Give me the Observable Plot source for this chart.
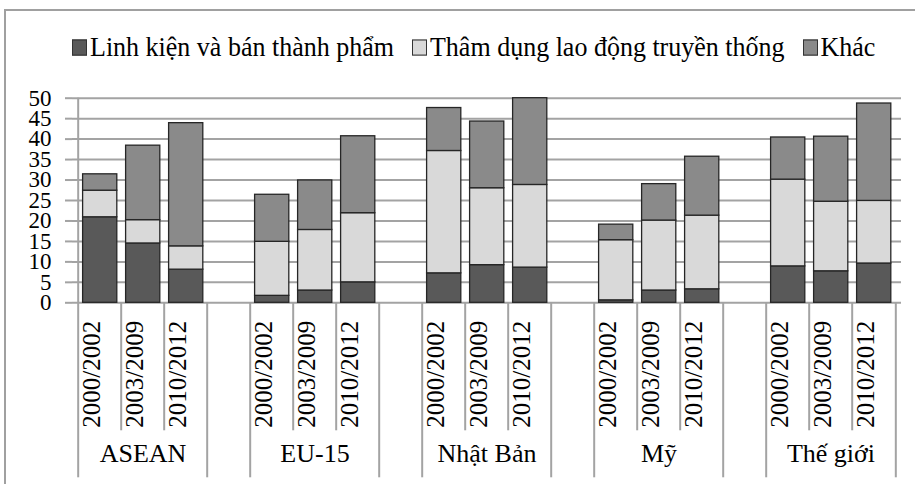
<!DOCTYPE html>
<html>
<head>
<meta charset="utf-8">
<script src="https://cdn.jsdelivr.net/npm/d3@7"></script>
<script src="https://cdn.jsdelivr.net/npm/@observablehq/plot@0.6"></script>
<style>
  html, body { margin: 0; padding: 0; background: #fff; }
  #wrap { position: relative; width: 915px; height: 484px; overflow: hidden; background: #fff; font-family: "Liberation Serif", "Times New Roman", serif; }
  #border { position: absolute; left: 4px; top: 9px; right: -20px; bottom: -20px; border: 2px solid #a0a0a0; }
  #legend { position: absolute; left: 72px; top: 32px; display: flex; align-items: center; font-size: 26px; color: #000; white-space: nowrap; transform: scaleY(1.08); transform-origin: left center; }
  #legend .item { display: flex; align-items: center; margin-right: 18px; }
  #legend .sw { width: 13px; height: 13px; border: 1px solid #333; margin-right: 3px; }
  #chart { position: absolute; left: 0; top: 80px; }
</style>
</head>
<body>
<div id="wrap">
  <div id="border"></div>
  <div id="legend"></div>
  <div id="chart"></div>
</div>
<script>
const groups = ["ASEAN", "EU-15", "Nhật Bản", "Mỹ", "Thế giới"];
const periods = ["2000/2002", "2003/2009", "2010/2012"];
const seriesNames = ["Linh kiện và bán thành phẩm", "Thâm dụng lao động truyền thống", "Khác"];
const seriesColors = ["#595959", "#d9d9d9", "#8a8a8a"];
// values per group x period (ASEAN 3, EU-15 3, Nhật Bản 3, Mỹ 3, Thế giới 3)
const linhKien = [20.9, 14.5, 8.1, 1.7, 3.0, 5.0, 7.2, 9.2, 8.6, 0.6, 3.0, 3.3, 8.9, 7.7, 9.6];
const thamDung = [6.5, 5.7, 5.7, 13.2, 14.8, 16.9, 29.9, 18.8, 20.2, 14.7, 17.1, 18.0, 21.2, 17.0, 15.3];
const khac = [4.0, 18.2, 30.1, 11.5, 12.1, 18.8, 10.5, 16.3, 21.2, 3.8, 8.9, 14.4, 10.3, 15.9, 23.8];
const yTicks = [0, 5, 10, 15, 20, 25, 30, 35, 40, 45, 50];

// slots: 3 bars per group, one empty slot between groups
const slots = [];
const slotInfo = [];
groups.forEach((g, gi) => {
  periods.forEach((p) => { slots.push(g + "|" + p); slotInfo.push({slot: g + "|" + p, group: g, period: p}); });
  if (gi < groups.length - 1) slots.push("gap" + gi);
});

const seriesArrays = [linhKien, thamDung, khac];
const rows = [];
groups.forEach((g, gi) => periods.forEach((p, pi) => {
  seriesArrays.forEach((arr, si) => rows.push({slot: g + "|" + p, series: seriesNames[si], value: arr[gi * 3 + pi]}));
}));

const W = 915, H = 404, ML = 72, MR = 14, MT = 17.7, MB = 181.7;
const bw = (W - ML - MR) / slots.length;

const firstSlots = groups.map(g => g + "|" + periods[0]);
const innerSlots = groups.flatMap(g => [g + "|" + periods[1], g + "|" + periods[2]]);
const gapSlots = slots.filter(s => s.startsWith("gap"));
const lastSlot = slots[slots.length - 1];
const midSlots = groups.map(g => ({slot: g + "|" + periods[1], name: g}));

const gridColor = "#a3a3a3";

const plot = Plot.plot({
  width: W, height: H,
  marginLeft: ML, marginRight: MR, marginTop: MT, marginBottom: MB,
  style: {fontFamily: "'Liberation Serif', 'Times New Roman', serif", fontSize: "25px", background: "transparent", overflow: "visible", color: "#000"},
  x: {domain: slots, padding: 0, axis: null, label: null},
  y: {domain: [0, 50], axis: null, label: null},
  color: {domain: seriesNames, range: seriesColors},
  marks: [
    Plot.gridY(yTicks, {stroke: gridColor, strokeWidth: 2, strokeOpacity: 1}),
    Plot.axisY(yTicks, {anchor: "left", label: null, tickSize: 7, tickPadding: 14, stroke: gridColor, strokeWidth: 2, fill: "#000", fontSize: 23, tickFormat: d => String(d)}),
    Plot.ruleX([slots[0]], {dx: -bw / 2, stroke: gridColor, strokeWidth: 2}),
    Plot.barY(rows, Plot.stackY({x: "slot", y: "value", fill: "series", order: seriesNames, stroke: "#262626", strokeWidth: 1.3, insetLeft: 4.6, insetRight: 4.2})),
    // short dividers between bars inside a group
    Plot.axisX(innerSlots, {anchor: "bottom", label: null, tickSize: 128, tickFormat: () => "", dx: -bw / 2, stroke: gridColor, strokeWidth: 2}),
    // full dividers at group edges
    Plot.axisX(firstSlots.concat(gapSlots), {anchor: "bottom", label: null, tickSize: 175, tickFormat: () => "", dx: -bw / 2, stroke: gridColor, strokeWidth: 2}),
    Plot.axisX([lastSlot], {anchor: "bottom", label: null, tickSize: 175, tickFormat: () => "", dx: bw / 2, stroke: gridColor, strokeWidth: 2}),
    // period labels
    Plot.text(slotInfo, {x: "slot", frameAnchor: "bottom", text: "period", rotate: -90, textAnchor: "end", dy: 18, fontSize: 25, fill: "#000"}),
    // group labels
    Plot.text(midSlots, {x: "slot", frameAnchor: "bottom", text: "name", dy: 159, fontSize: 26, fill: "#000"})
  ]
});
document.getElementById("chart").appendChild(plot);

const legend = document.getElementById("legend");
seriesNames.forEach((n, i) => {
  const it = document.createElement("div");
  it.className = "item";
  const sw = document.createElement("div");
  sw.className = "sw";
  sw.style.background = seriesColors[i];
  const t = document.createElement("span");
  t.textContent = n;
  it.appendChild(sw); it.appendChild(t);
  legend.appendChild(it);
});
</script>
</body>
</html>
